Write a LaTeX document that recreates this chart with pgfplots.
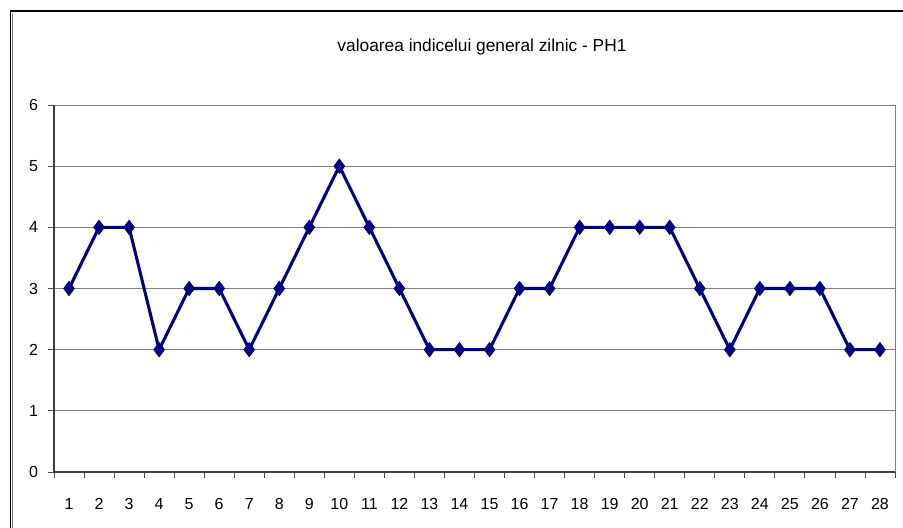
\documentclass[border=0pt]{standalone}
\usepackage{pgfplots}
\pgfplotsset{compat=1.18}
\usepackage{fontspec}
\setmainfont{Liberation Sans}
\definecolor{navyline}{HTML}{000080}
\definecolor{gridgray}{HTML}{808080}
\begin{document}
\begin{tikzpicture}
\useasboundingbox (0pt,0pt) rectangle (677.25pt,396pt);
\fill[white] (0pt,0pt) rectangle (677.25pt,396pt);
% outer frame (cropped chart area border)
\draw[black, line width=1.4pt] (7.9pt,-5pt) -- (7.9pt,388pt) -- (700pt,388pt);
\draw[gray, line width=0.6pt] (9.5pt,-5pt) -- (9.5pt,386.3pt);
\node[font=\fontsize{13pt}{15pt}\selectfont, anchor=center] at (361.5pt,361pt) {valoarea indicelui general zilnic - PH1};
\begin{axis}[
  at={(40.5pt,42pt)}, anchor=south west,
  width=630.75pt, height=275.25pt, scale only axis,
  xmin=0.5, xmax=28.5, ymin=0, ymax=6,
  xtick={1,...,28},
  minor xtick={0.5,1.5,...,28.5},
  ytick={0,1,...,6},
  tick align=outside,
  tick pos=left,
  major tick length=4.5pt,
  minor tick length=4.5pt,
  xtick style={draw=none},
  minor x tick style={draw=black!70, line width=0.6pt},
  ytick style={draw=black!70, line width=0.6pt},
  ymajorgrids,
  grid style={draw=gridgray, line width=0.75pt},
  axis line style={draw=gridgray, line width=0.75pt},
  /pgf/number format/assume math mode=true,
  tick label style={font=\fontsize{12pt}{14pt}\selectfont},
  xticklabel style={yshift=-12pt},
  yticklabel style={xshift=-4pt},
  clip=false,
]
\addplot[color=navyline, line width=2.3pt, mark=diamond*, mark size=5.4pt,
  mark options={fill=navyline, draw=navyline, line width=0.5pt}]
  coordinates {
  (1,3) (2,4) (3,4) (4,2) (5,3) (6,3) (7,2) (8,3) (9,4) (10,5)
  (11,4) (12,3) (13,2) (14,2) (15,2) (16,3) (17,3) (18,4) (19,4) (20,4)
  (21,4) (22,3) (23,2) (24,3) (25,3) (26,3) (27,2) (28,2)
  };
\draw[black!75, line width=0.9pt] (axis cs:0.5,6) -- (axis cs:0.5,0) -- (axis cs:28.5,0);
\end{axis}
\end{tikzpicture}
\end{document}
